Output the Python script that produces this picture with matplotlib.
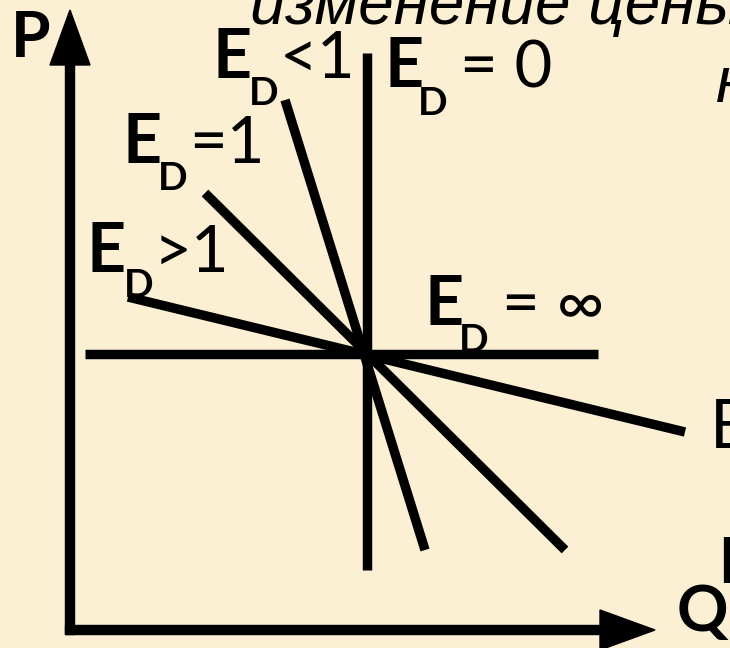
import matplotlib.pyplot as plt

plt.rcParams['font.family'] = ['Lato', 'DejaVu Sans']

# demand lines through one point: (Q, P) at both ends
curve_names = ['E_D=0', 'E_D=inf', 'E_D<1', 'E_D=1', 'E_D>1']
q_start = [297, 15, 215, 135, 58]
q_end = [297, 528, 355, 495, 615]
p_start = [577, 276, 530, 437, 333]
p_end = [60, 276, 80, 80, 198]

axis_p_top = 620
axis_q_right = 585

bg = '#FBEFD4'


def px(x, y):
    # picture pixels -> chart units (origin in the axis corner)
    return x - 70, 630 - y


fig = plt.figure(figsize=(7.3, 6.48), dpi=100, facecolor=bg)
ax = fig.add_axes([0, 0, 1, 1])
ax.set_xlim(-70, 660)
ax.set_ylim(-18, 630)
ax.axis('off')

for i in range(len(curve_names)):
    ax.plot([q_start[i], q_end[i]], [p_start[i], p_end[i]], color='black',
            lw=6.8, solid_capstyle='butt')

# axes with arrow heads
ax.arrow(0, -4.5, 0, axis_p_top + 4.5, width=9, head_width=40, head_length=55,
         length_includes_head=True, color='black')
ax.arrow(-4.5, 0, axis_q_right + 4.5, 0, width=9, head_width=40, head_length=55,
         length_includes_head=True, color='black')

# elasticity labels: E position, D position, rest position, rest text
labels = [
    ((213, 78), (249, 105), (280, 78), '<1'),
    ((385, 87), (418, 115), (460, 87), '= 0'),
    ((123, 163), (158, 190), (189, 163), '=1'),
    ((87, 272), (124, 297), (154, 272), '>1'),
    ((425, 325), (459, 352), (502, 325), '= ∞'),
]
for e_pos, d_pos, r_pos, rest in labels:
    ax.text(*px(*e_pos), 'E', fontsize=49, fontweight='bold', va='baseline')
    ax.text(*px(*d_pos), 'D', fontsize=28, fontweight='bold', va='baseline')
    ax.text(*px(*r_pos), rest, fontsize=47, va='baseline')

ax.text(*px(11, 57), 'P', fontsize=46, fontweight='bold', va='baseline')
ax.text(*px(677, 631), 'Q', fontsize=46, fontweight='bold', va='baseline')

# pieces of the slide text that the crop cuts off
ax.text(*px(250, 24), 'изменение цены', fontsize=46, style='italic',
        family=['Liberation Sans'], va='baseline')
ax.text(*px(716, 102), 'н', fontsize=46, style='italic',
        family=['Liberation Sans'], va='baseline')
ax.text(*px(710, 448), 'E', fontsize=48, va='baseline')
ax.text(*px(717, 583), 'E', fontsize=46, va='baseline')

fig.savefig('out.png', dpi=100, facecolor=bg)
